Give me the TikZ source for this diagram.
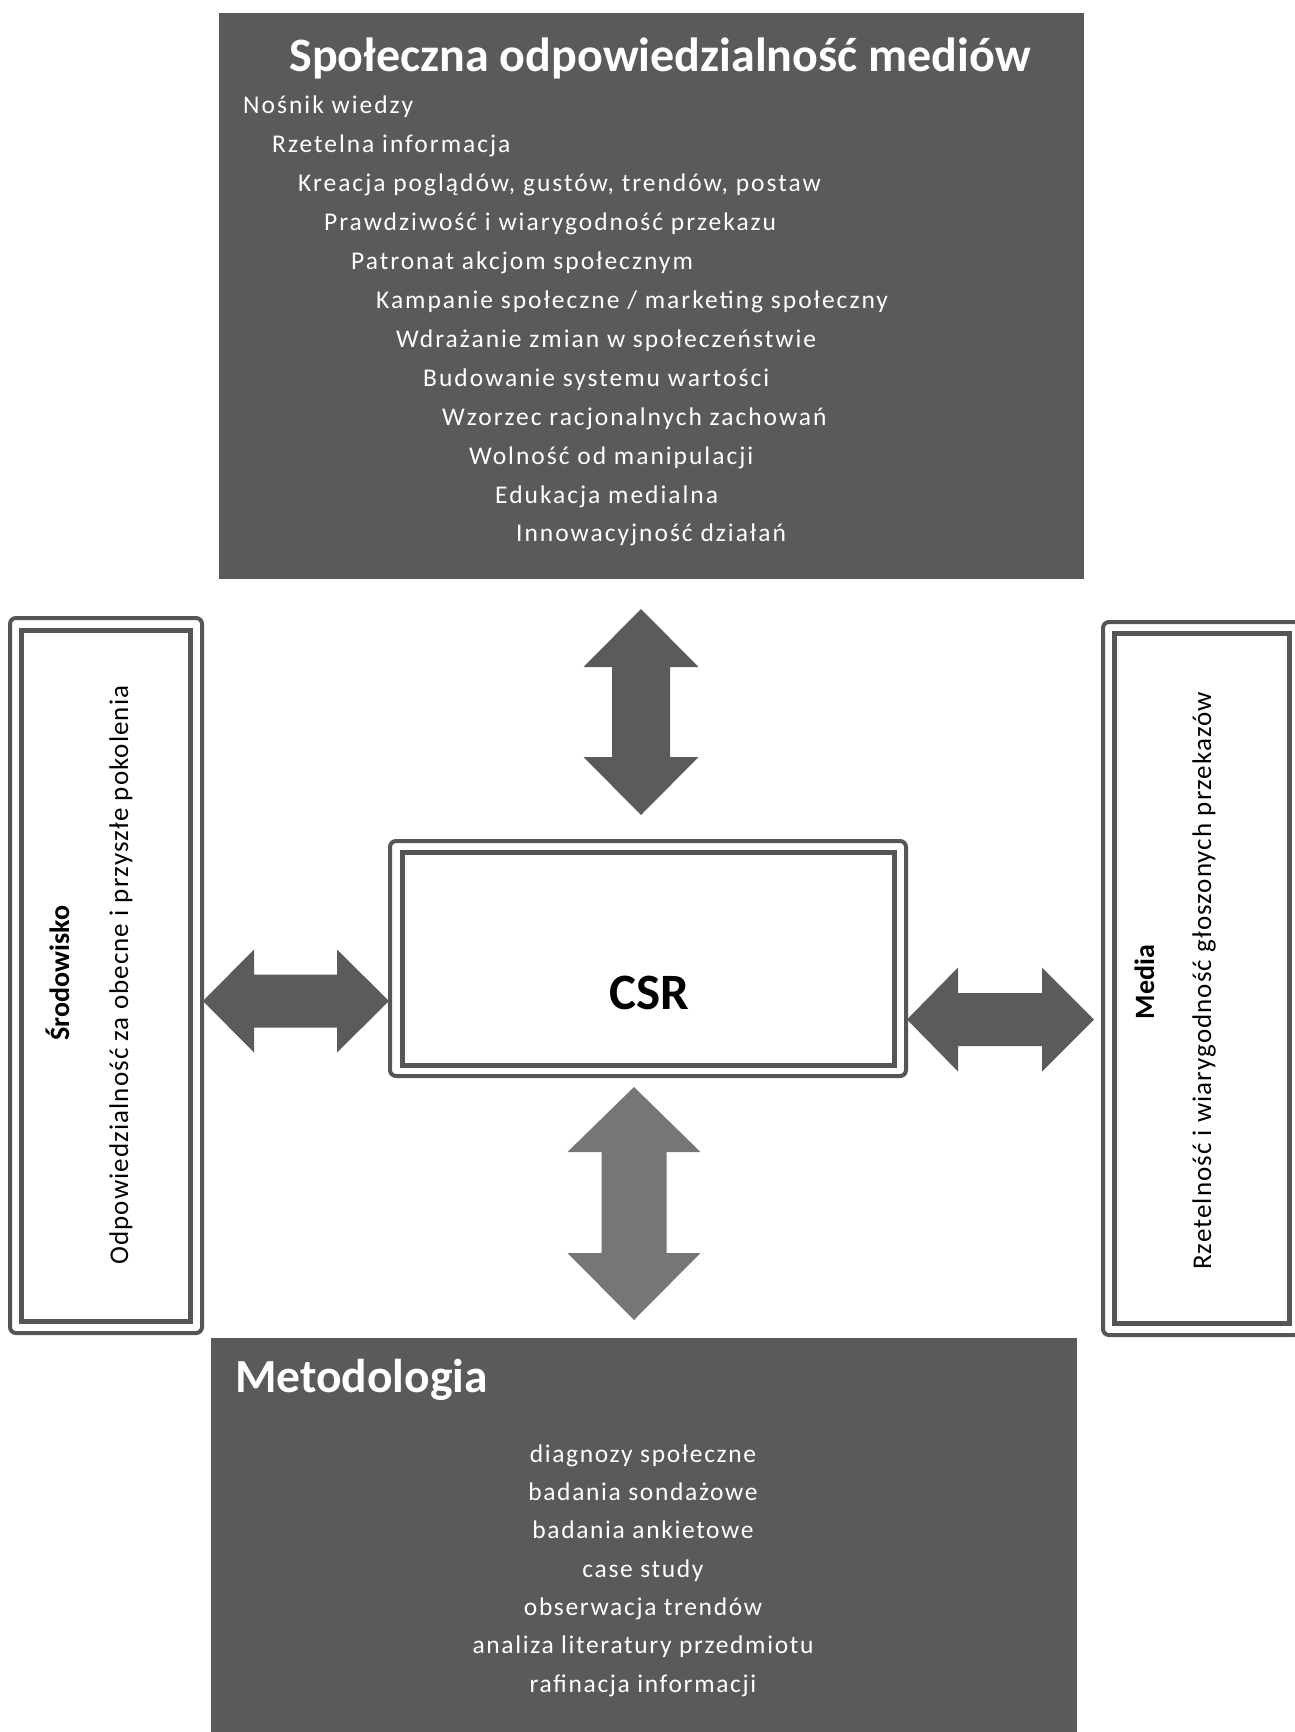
\documentclass[tikz,border=0pt]{standalone}
\usepackage{fontspec}
\setmainfont{Carlito}
\definecolor{boxgray}{HTML}{5A5A5A}
\definecolor{linegray}{HTML}{555555}
\definecolor{arrowdark}{HTML}{5B5B5B}
\definecolor{arrowlight}{HTML}{767676}
\tikzset{
  darkbox/.style={fill=boxgray, draw=none},
  outerframe/.style={draw=linegray, line width=4pt, rounded corners=6pt, fill=white},
  innerframe/.style={draw=linegray, line width=5pt, fill=white},
  listitem/.style={text=white, anchor=base west, inner sep=0pt, font=\fontsize{25.5}{30}\selectfont\addfontfeature{LetterSpace=7.8}},
  methitem/.style={text=white, anchor=base, inner sep=0pt, font=\fontsize{25.5}{30}\selectfont\addfontfeature{LetterSpace=6.5}},
  sidetitle/.style={rotate=90, anchor=base, inner sep=0pt, font=\fontsize{28}{34}\selectfont\bfseries},
  sidetext/.style={rotate=90, anchor=base, inner sep=0pt, font=\fontsize{27}{32}\selectfont\addfontfeature{LetterSpace=4}},
  bigarrow/.style={fill=arrowdark, draw=none},
}
\begin{document}
\begin{tikzpicture}[x=1pt,y=-1pt]
\useasboundingbox (0,0) rectangle (1294,1732);
% top box
\path[darkbox] (219,13) rectangle (1084,579);
\node[text=white, anchor=base, inner sep=0pt, font=\fontsize{48}{56}\selectfont\bfseries] (title) at (660,71) {Społeczna odpowiedzialność mediów};
\node[listitem] (t1) at (243,113.5) {Nośnik wiedzy};
\node[listitem] (t2) at (272,152.5) {Rzetelna informacja};
\node[listitem] (t3) at (298,191.5) {Kreacja poglądów, gustów, trendów, postaw};
\node[listitem] (t4) at (324,230.5) {Prawdziwość i wiarygodność przekazu};
\node[listitem] (t5) at (351,269.5) {Patronat akcjom społecznym};
\node[listitem] (t6) at (376,308.5) {Kampanie społeczne / marketing społeczny};
\node[listitem] (t7) at (396,347.5) {Wdrażanie zmian w społeczeństwie};
\node[listitem] (t8) at (423,386.5) {Budowanie systemu wartości};
\node[listitem] (t9) at (442,425.5) {Wzorzec racjonalnych zachowań};
\node[listitem] (t10) at (469,464) {Wolność od manipulacji};
\node[listitem] (t11) at (495,503) {Edukacja medialna};
\node[listitem] (t12) at (516,541.5) {Innowacyjność działań};

% left box
\draw[outerframe] (10,618) rectangle (202,1333);
\draw[innerframe] (21,630) rectangle (190,1321);
\node[sidetitle] (srod) at (69,973) {Środowisko};
\node[sidetext] (srodtxt) at (128,975) {Odpowiedzialność za obecne i przyszłe pokolenia};

% right box
\draw[outerframe] (1103,622) rectangle (1300,1335);
\draw[innerframe] (1114,633) rectangle (1289,1323);
\node[sidetitle] (media) at (1154,982) {Media};
\node[sidetext] (mediatxt) at (1211,981) {Rzetelność i wiarygodność głoszonych przekazów};

% CSR box
\draw[outerframe] (390,841) rectangle (906,1076);
\draw[innerframe] (402,852) rectangle (894,1065);
\node[font=\fontsize{51}{60}\selectfont\bfseries, inner sep=0pt] (csr) at (649,993) {CSR};

% bottom box
\path[darkbox] (211,1338) rectangle (1077,1732);
\node[text=white, anchor=base west, inner sep=0pt, font=\fontsize{47.5}{54}\selectfont\bfseries] (meth) at (235,1392) {Metodologia};
\node[methitem] (m1) at (643,1462) {diagnozy społeczne};
\node[methitem] (m2) at (643,1500) {badania sondażowe};
\node[methitem] (m3) at (643,1538.5) {badania ankietowe};
\node[methitem] (m4) at (643,1577) {case study};
\node[methitem] (m5) at (643,1615) {obserwacja trendów};
\node[methitem] (m6) at (643,1653.5) {analiza literatury przedmiotu};
\node[methitem] (m7) at (643,1692) {rafinacja informacji};

% arrows
\fill[bigarrow] (641,609) -- (698.5,667) -- (670,667) -- (670,757) -- (698.5,757) -- (641,815)
  -- (583.5,757) -- (612,757) -- (612,667) -- (583.5,667) -- cycle;
\fill[bigarrow] (203,1001) -- (254,949.5) -- (254,974.5) -- (337,974.5) -- (337,949.5) -- (389,1001)
  -- (337,1052.5) -- (337,1027.5) -- (254,1027.5) -- (254,1052.5) -- cycle;
\fill[bigarrow] (907,1019.5) -- (958,967.5) -- (958,993) -- (1042,993) -- (1042,967.5) -- (1094,1019.5)
  -- (1042,1071.5) -- (1042,1046) -- (958,1046) -- (958,1071.5) -- cycle;
\fill[bigarrow, fill=arrowlight] (634,1087) -- (700.5,1152) -- (666.5,1152) -- (666.5,1253) -- (700.5,1253) -- (634,1320)
  -- (567.5,1253) -- (601.5,1253) -- (601.5,1152) -- (567.5,1152) -- cycle;
\end{tikzpicture}
\end{document}
